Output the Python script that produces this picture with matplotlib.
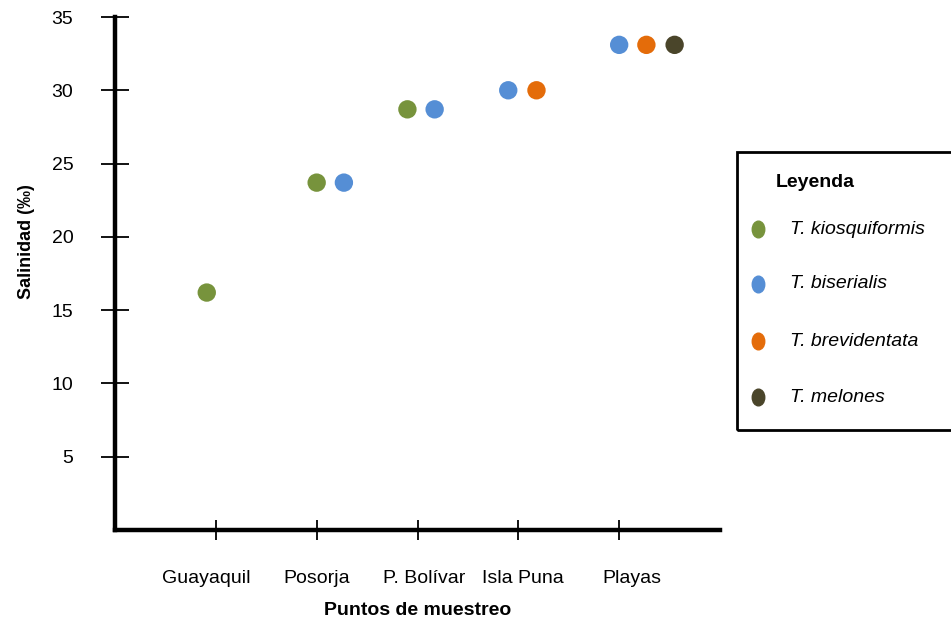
import numpy as np
import matplotlib.pyplot as plt
from matplotlib.patches import Rectangle
from matplotlib.lines import Line2D
from matplotlib.path import Path
from matplotlib.transforms import Affine2D, ScaledTranslation

plt.rcParams['font.family'] = 'Liberation Sans'

# sampling sites (category positions 1..5)
sites = ['Guayaquil', 'Posorja', 'P. Bolívar', 'Isla Puna', 'Playas']

# each species: x position (site index + small offset) and salinity
species = ['T. kiosquiformis', 'T. biserialis', 'T. brevidentata', 'T. melones']
colors = ['#77933C', '#558ED5', '#E46C0A', '#4A452A']

kios_x = [0.91, 2.0, 2.9]
kios_y = [16.2, 23.7, 28.7]
bise_x = [2.27, 3.17, 3.9, 5.0]
bise_y = [23.7, 28.7, 30.0, 33.1]
brev_x = [4.18, 5.27]
brev_y = [30.0, 33.1]
melo_x = [5.55]
melo_y = [33.1]

series_x = [kios_x, bise_x, brev_x, melo_x]
series_y = [kios_y, bise_y, brev_y, melo_y]

fig = plt.figure(figsize=(9.51, 6.22), dpi=100)
ax = fig.add_axes([115/951, (622-530)/622, (720-115)/951, (530-17)/622])

for xs, ys, c in zip(series_x, series_y, colors):
    ax.scatter(xs, ys, s=175, color=c, edgecolors='none', zorder=3, clip_on=False)

ax.set_xlim(0, 6)
ax.set_ylim(0, 35)
ax.set_xticks(np.arange(1, 6))
ax.set_xticklabels(sites)
ax.set_yticks(np.arange(5, 36, 5))
ax.tick_params(axis='y', direction='inout', length=20, width=1.3, pad=20, labelsize=14)
ax.tick_params(axis='x', direction='inout', length=13.7, width=1.3, pad=22, labelsize=14)

# the site names in the original sit a bit off their ticks
label_shift = [-7.2, 0, 5, 3, 9.4]
for lab, dx in zip(ax.get_xticklabels(), label_shift):
    lab.set_transform(lab.get_transform() + ScaledTranslation(dx/72, 0, fig.dpi_scale_trans))

for s in ['top', 'right']:
    ax.spines[s].set_visible(False)
for s in ['left', 'bottom']:
    ax.spines[s].set_linewidth(3.2)

ax.set_ylabel('Salinidad (‰)', fontsize=13, fontweight='bold')
ax.yaxis.set_label_coords(-0.133, 0.563)
ax.set_xlabel('Puntos de muestreo', fontsize=14, fontweight='bold', labelpad=11)

# legend box, drawn by hand so it can run off the right edge
W, H = 951, 622
fig.add_artist(Rectangle((737/W, (H-430)/H), 0.3, (430-152)/H, transform=fig.transFigure,
                         fill=False, edgecolor='black', linewidth=2))
fig.text(776/W, (H-183)/H, 'Leyenda', fontsize=14, fontweight='bold', va='center')
oval = Path.unit_circle().transformed(Affine2D().scale(0.75, 1.0))
leg_y = [229, 284, 341, 397]
for name, c, yy in zip(species, colors, leg_y):
    fig.add_artist(Line2D([758/W], [(H-yy)/H], marker=oval, markersize=12, color=c,
                          linestyle='none', transform=fig.transFigure))
    fig.text(790/W, (H-yy)/H, name, fontsize=14, style='italic', va='center')

fig.savefig('out.png', dpi=100)
